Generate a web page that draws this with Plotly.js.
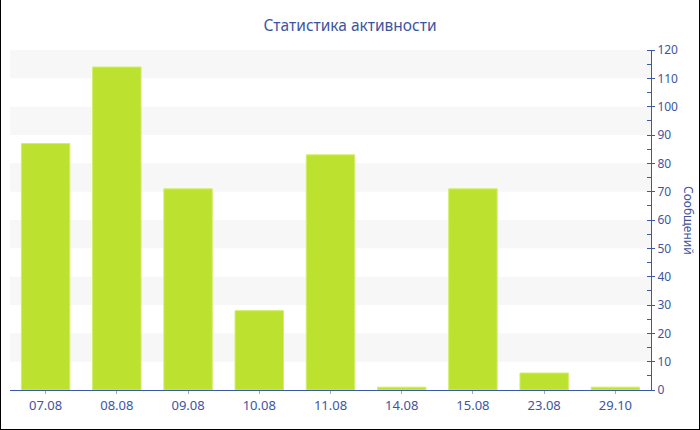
<!DOCTYPE html>
<html>
<head>
<meta charset="utf-8">
<script src="https://cdn.plot.ly/plotly-3.0.1.min.js"></script>
<style>
html,body{margin:0;padding:0;background:#fff;}
#wrap{position:relative;width:700px;height:430px;}
#chart{position:absolute;left:0;top:0;width:700px;height:430px;}
#frame{position:absolute;left:0;top:0;width:698px;height:429px;border-left:1px solid #000;border-right:1px solid #000;border-bottom:1px solid #000;pointer-events:none;}
</style>
</head>
<body>
<div id="wrap"><div id="chart"></div><div id="frame"></div></div>
<script>
const categories = ["07.08","08.08","09.08","10.08","11.08","14.08","15.08","23.08","29.10"];
const messages = [87, 114, 71, 28, 83, 1, 71, 6, 1];
const chartTitle = "Статистика активности";
const yTitle = "Сообщений";

const textColor = "#3d55a0";
const axisColor = "#3a5aa8";
const fontFam = "Noto Sans, DejaVu Sans, sans-serif";
const yMax = 120, yStep = 10;

const shapes = [];
for (let v = yStep; v < yMax; v += 2 * yStep) {
  shapes.push({type:"rect", xref:"paper", yref:"y", x0:0, x1:1, y0:v, y1:v + yStep,
    fillcolor:"#f7f7f7", line:{width:0}, layer:"below"});
}

const trace = {
  type: "bar",
  x: categories,
  y: messages,
  marker: {color: "#bce22f", line: {color: "#d2ee6a", width: 1}},
  hoverinfo: "x+y"
};

const layout = {
  width: 700, height: 430,
  margin: {l: 10, r: 49, t: 50, b: 40},
  paper_bgcolor: "#ffffff",
  plot_bgcolor: "#ffffff",
  font: {family: fontFam, size: 12, color: textColor},
  title: {text: chartTitle, x: 0.5, xref: "container", xanchor: "center", y: 0.94, yanchor: "middle",
    font: {size: 15.5, color: textColor, family: fontFam}},
  bargap: 0.32,
  showlegend: false,
  xaxis: {
    type: "category",
    showline: true, linecolor: axisColor, linewidth: 1,
    ticks: "outside", ticklen: 3, tickcolor: "#a0a8c0",
    showgrid: false, zeroline: false,
    tickfont: {size: 13, color: textColor, family: fontFam}
  },
  yaxis: {
    side: "right",
    range: [0, yMax], dtick: yStep, tick0: 0,
    showline: true, linecolor: axisColor, linewidth: 1,
    ticks: "outside", ticklen: 3, tickcolor: axisColor,
    minor: {dtick: 5, ticks: "inside", ticklen: 4, tickcolor: axisColor, showgrid: false},
    showgrid: false, zeroline: false,
    tickfont: {size: 12, color: textColor, family: fontFam}
  },
  shapes: shapes,
  annotations: [{
    text: yTitle, xref: "paper", yref: "paper", x: 1, y: 0.5,
    xanchor: "center", yanchor: "middle", xshift: 38, textangle: 90,
    showarrow: false, font: {size: 12, color: textColor, family: fontFam}
  }]
};

Plotly.newPlot("chart", [trace], layout, {displayModeBar: false, staticPlot: true});
</script>
</body>
</html>
